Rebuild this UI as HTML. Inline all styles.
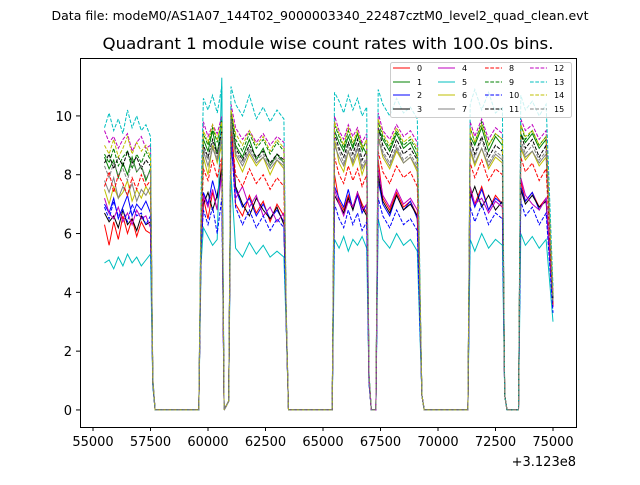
<!DOCTYPE html>
<html><head><meta charset="utf-8"><style>
html,body{margin:0;padding:0;background:#fff;}
svg text{font-family:"DejaVu Sans","Liberation Sans",sans-serif;}
</style></head><body>
<svg id="chart" width="640" height="480" xmlns="http://www.w3.org/2000/svg">
<rect width="640" height="480" fill="#fff"/>
<text x="320" y="20" font-size="12.4" text-anchor="middle" textLength="537" lengthAdjust="spacingAndGlyphs">Data file: modeM0/AS1A07_144T02_9000003340_22487cztM0_level2_quad_clean.evt</text>
<text x="328" y="49" font-size="16" text-anchor="middle" textLength="451" lengthAdjust="spacingAndGlyphs">Quadrant 1 module wise count rates with 100.0s bins.</text>
<g id="plot"></g>
<rect x="80.5" y="58.5" width="496" height="369" fill="none" stroke="#000" stroke-width="1"/>
<g id="ticks"></g>
<text x="576" y="466" font-size="13" text-anchor="end">+3.123e8</text>
<g id="legend"></g>
</svg>
<script>
const times=[55500,55700,55900,56100,56300,56500,56700,56900,57100,57300,57500,57600,57700,
59600,59700,59800,60000,60200,60400,60600,60700,60900,61000,61200,61500,61800,62100,62400,62700,63000,63300,63400,63500,
65400,65500,65700,65900,66100,66300,66500,66700,66900,67000,67100,67300,67400,67600,67900,68200,68500,68800,69100,69300,69400,
71300,71400,71600,71900,72200,72500,72800,72900,73000,73500,73600,73800,74100,74400,74700,75000];
const xTicks=[55000,57500,60000,62500,65000,67500,70000,72500,75000];
const yTicks=[0,2,4,6,8,10];
const seriesNames=["0","1","2","3","4","5","6","7","8","9","10","11","12","13","14","15"];
const s0=[6.3,5.6,6.4,5.8,6.6,6.0,6.5,5.9,6.4,6.1,6.0,0.9,0, 0,5.5,7.2,6.5,7.4,6.8,8.5,0,0.3,9.5,7.0,6.6,7.3,6.7,7.1,6.4,7.0,6.6,3.0,0, 0,8.0,7.1,6.8,7.3,6.9,7.4,7.0,6.7,1.0,0,0,8.5,7.2,6.8,7.4,6.9,7.1,6.6,0.5,0, 0,7.5,7.0,7.6,6.8,7.3,7.0,0.5,0,0,7.8,7.1,7.4,6.9,7.2,3.5];
const s1=[8.6,8.2,8.5,7.9,8.4,8.0,8.6,8.1,8.3,7.8,8.2,1.0,0, 0,6.5,9.2,8.8,9.5,8.7,9.8,0,0.3,10.0,9.0,8.6,9.2,8.5,8.9,8.3,8.7,8.4,3.2,0, 0,9.5,9.1,8.8,9.3,8.9,9.4,9.0,8.7,1.2,0,0,9.6,9.2,8.8,9.4,8.9,9.1,8.6,0.5,0, 0,9.3,9.0,9.6,8.8,9.3,9.0,0.5,0,0,9.4,9.1,9.4,8.9,9.2,3.8];
const s2=[7.0,6.7,7.2,6.5,6.9,7.3,6.6,7.0,6.8,7.1,6.7,0.9,0, 0,5.8,7.4,7.0,7.8,7.2,8.0,0,0.3,9.0,7.5,6.9,7.2,6.6,7.0,6.5,6.8,6.4,3.0,0, 0,7.6,7.2,6.9,7.5,6.8,7.3,6.7,7.0,1.0,0,0,7.8,7.0,6.6,7.3,6.8,7.1,6.5,0.5,0, 0,7.4,6.9,7.5,6.8,7.2,7.0,0.5,0,0,7.6,7.1,7.4,6.8,7.2,3.5];
const s3=[6.7,6.4,6.6,6.2,6.8,6.3,6.5,6.1,6.6,6.3,6.4,0.9,0, 0,5.6,7.0,7.4,6.8,7.3,8.2,0,0.3,9.8,7.6,7.0,6.6,7.2,6.8,6.5,6.9,6.3,3.0,0, 0,7.3,7.0,6.7,7.2,6.8,7.4,6.9,6.6,1.0,0,0,8.0,7.1,6.7,7.3,6.8,7.0,6.6,0.5,0, 0,7.2,7.6,6.9,7.3,6.8,7.1,0.5,0,0,7.5,7.0,7.3,6.9,7.1,3.5];
const s4=[7.2,6.7,6.5,6.9,6.4,6.7,6.3,6.8,6.5,6.6,6.2,0.9,0, 0,5.7,7.3,6.9,7.5,6.8,8.0,0,0.3,9.6,7.2,7.6,6.9,7.3,6.6,6.9,6.4,6.7,3.0,0, 0,7.5,7.0,6.6,7.1,6.9,7.4,6.8,7.0,1.0,0,0,8.2,7.3,6.9,7.5,7.0,7.2,6.8,0.5,0, 0,7.6,7.0,7.2,6.7,7.1,6.9,0.5,0,0,7.9,7.3,7.0,6.8,7.2,3.5];
const s5=[5.0,5.1,4.8,5.2,4.9,5.3,5.0,5.2,4.9,5.1,5.3,0.8,0, 0,5.0,6.2,5.9,5.6,5.8,11.3,0,0.3,8.0,5.5,5.2,5.7,5.3,5.6,5.2,5.4,5.2,2.8,0, 0,5.8,5.5,5.9,5.4,5.8,5.6,5.9,5.5,0.9,0,0,6.5,5.8,5.5,6.0,5.6,5.8,5.4,0.5,0, 0,5.8,5.4,6.0,5.5,5.8,5.6,0.5,0,0,6.0,5.6,5.9,5.5,5.8,3.0];
const s6=[7.5,7.0,7.6,7.2,7.4,7.8,7.1,7.5,7.2,7.6,7.3,1.0,0, 0,6.0,8.6,8.0,9.0,8.4,9.0,0,0.3,9.8,8.6,8.1,8.7,8.3,8.6,8.0,8.5,8.2,3.2,0, 0,9.2,8.4,8.1,8.8,8.3,8.7,8.0,8.5,1.1,0,0,9.3,8.6,8.2,8.8,8.4,8.6,8.1,0.5,0, 0,8.8,8.3,8.9,8.2,8.6,8.4,0.5,0,0,8.9,8.5,8.8,8.3,8.6,3.6];
const s7=[7.8,7.4,7.9,7.2,7.6,7.3,7.7,7.1,7.5,7.3,7.6,1.0,0, 0,6.2,8.8,8.3,8.9,8.5,9.2,0,0.3,9.7,8.7,8.3,8.8,8.4,8.6,8.2,8.5,8.3,3.2,0, 0,9.0,8.6,8.3,8.8,8.4,8.9,8.2,8.5,1.1,0,0,9.2,8.7,8.3,8.9,8.4,8.6,8.2,0.5,0, 0,8.9,8.4,8.9,8.3,8.7,8.5,0.5,0,0,9.0,8.6,8.8,8.4,8.7,3.6];
const s8=[7.6,8.1,7.4,8.0,7.7,7.3,7.9,7.5,8.0,7.6,7.8,1.0,0, 0,6.0,8.2,7.8,8.5,7.9,8.6,0,0.3,9.6,8.0,7.6,8.2,7.7,8.0,7.5,7.9,7.6,3.1,0, 0,8.6,8.0,7.7,8.3,7.8,8.2,7.6,8.0,1.0,0,0,8.8,8.1,7.7,8.3,7.9,8.1,7.6,0.5,0, 0,8.4,7.9,8.5,7.8,8.2,8.0,0.5,0,0,8.6,8.1,8.4,7.8,8.2,3.6];
const s9=[8.7,8.4,8.9,8.3,8.6,8.8,8.2,8.7,8.4,8.8,8.5,1.0,0, 0,6.6,9.4,9.0,9.6,9.1,9.9,0,0.3,10.2,9.2,8.8,9.4,8.9,9.2,8.7,9.1,8.8,3.3,0, 0,9.7,9.3,8.9,9.5,9.0,9.4,8.8,9.2,1.2,0,0,9.8,9.3,8.9,9.5,9.0,9.2,8.8,0.5,0, 0,9.6,9.1,9.8,9.0,9.4,9.2,0.5,0,0,9.7,9.2,9.5,9.0,9.3,3.8];
const s10=[6.9,6.5,7.1,6.6,6.8,6.4,7.0,6.6,6.7,6.3,6.6,0.9,0, 0,5.5,6.8,6.3,6.9,6.0,7.2,0,0.3,9.3,6.9,6.3,6.8,6.2,6.6,6.1,6.5,6.2,2.9,0, 0,7.0,6.5,6.2,6.8,6.3,6.7,6.1,6.4,0.9,0,0,7.2,6.6,6.2,6.8,6.3,6.5,6.1,0.5,0, 0,6.9,6.4,7.0,6.3,6.7,6.5,0.5,0,0,7.1,6.6,6.9,6.3,6.7,3.3];
const s11=[8.4,8.7,8.2,8.6,8.3,8.8,8.4,8.6,8.2,8.5,8.3,1.0,0, 0,6.4,9.0,8.6,9.2,8.7,9.5,0,0.3,10.0,8.9,8.5,9.0,8.6,8.8,8.4,8.7,8.5,3.2,0, 0,9.4,8.9,8.6,9.1,8.7,9.2,8.5,8.8,1.1,0,0,9.6,9.0,8.6,9.2,8.7,8.9,8.5,0.5,0, 0,9.2,8.7,9.3,8.6,9.0,8.8,0.5,0,0,9.4,8.9,9.2,8.6,9.0,3.7];
const s12=[9.5,9.1,9.3,8.9,9.2,9.4,8.8,9.1,9.3,8.9,9.0,1.1,0, 0,7.0,9.8,9.3,9.7,9.4,10.0,0,0.3,10.4,9.6,9.2,9.5,9.1,9.4,9.0,9.3,9.1,3.4,0, 0,10.0,9.5,9.2,9.7,9.3,9.6,9.1,9.4,1.2,0,0,10.1,9.5,9.2,9.7,9.3,9.5,9.1,0.5,0, 0,9.8,9.3,9.9,9.2,9.6,9.4,0.5,0,0,9.9,9.5,9.7,9.2,9.5,4.0];
const s13=[9.6,10.1,9.5,9.9,9.4,10.2,9.6,10.0,9.5,9.7,9.3,1.1,0, 0,7.5,10.6,10.2,10.7,10.1,11.0,0,0.3,11.0,10.4,10.0,10.7,9.9,10.3,9.8,10.2,9.9,3.5,0, 0,10.8,10.5,10.1,10.7,10.2,10.6,10.0,10.3,1.3,0,0,10.9,10.4,10.0,10.6,10.1,10.3,9.9,0.5,0, 0,10.4,10.9,10.2,10.8,10.1,10.3,0.5,0,0,10.7,10.2,10.5,10.0,10.4,4.2];
const s14=[9.0,8.7,9.2,8.6,8.9,9.3,8.7,9.1,8.8,9.0,8.6,1.0,0, 0,6.8,9.5,9.1,9.7,9.2,9.8,0,0.3,10.2,9.4,9.0,9.5,9.0,9.3,8.8,9.2,8.9,3.3,0, 0,9.8,9.4,9.0,9.6,9.1,9.5,8.9,9.2,1.2,0,0,9.9,9.4,9.0,9.6,9.1,9.3,8.9,0.5,0, 0,9.6,9.1,9.7,9.0,9.4,9.2,0.5,0,0,9.7,9.3,9.5,9.0,9.3,3.9];
const s15=[8.3,7.9,8.4,8.0,8.2,7.8,8.5,8.1,8.3,7.9,8.1,1.0,0, 0,6.3,8.9,8.5,9.1,8.6,9.3,0,0.3,9.9,8.8,8.4,8.9,8.5,8.7,8.3,8.6,8.4,3.2,0, 0,9.2,8.8,8.4,9.0,8.5,9.0,8.3,8.6,1.1,0,0,9.4,8.8,8.4,9.0,8.5,8.7,8.3,0.5,0, 0,9.1,8.6,9.2,8.4,8.8,8.6,0.5,0,0,9.2,8.7,9.0,8.5,8.8,3.7];
const allSeries=[s0,s1,s2,s3,s4,s5,s6,s7,s8,s9,s10,s11,s12,s13,s14,s15];
const colors=["#ff0000","#008000","#0000ff","#000000","#bf00bf","#00bfbf","#bfbf00","#808080"];

const NS="http://www.w3.org/2000/svg";
const L=80,R=576,T=58,B=427,X0=54435,X1=76000,Y0=-0.58,Y1=11.97;
function xs(v){return L+(v-X0)/(X1-X0)*(R-L);}
function ys(v){return B-(v-Y0)/(Y1-Y0)*(B-T);}
function mk(tag,attrs,parent){const e=document.createElementNS(NS,tag);for(const k in attrs)e.setAttribute(k,attrs[k]);parent.appendChild(e);return e;}

const plot=document.getElementById('plot');
allSeries.forEach((s,i)=>{
  const d=s.map((v,j)=>(j?'L':'M')+xs(times[j]).toFixed(1)+','+ys(v).toFixed(1)).join(' ');
  const p=mk('path',{d:d,fill:'none',stroke:colors[i%8],'stroke-width':1,'stroke-dasharray':i>=8?'3.7,1.6':'none'},plot);
  
  
});

const tk=document.getElementById('ticks');
xTicks.forEach(v=>{
  const x=xs(v);
  const l=mk('line',{x1:x,x2:x,y1:B,y2:B+4,stroke:'#000'},tk);
  
  
  const t=mk('text',{x:x,y:B+19,'font-size':13,'text-anchor':'middle'},tk);
  t.textContent=v;
  
  
});
yTicks.forEach(v=>{
  const y=ys(v);
  const l=mk('line',{x1:L-4,x2:L,y1:y,y2:y,stroke:'#000'},tk);
  
  
  const t=mk('text',{x:L-8,y:y+5,'font-size':13,'text-anchor':'end'},tk);
  t.textContent=v;
  
  
});

const lg=document.getElementById('legend');
const bx=mk('rect',{x:390.5,y:62.5,width:181,height:55,rx:2,fill:'#fff','fill-opacity':0.8,stroke:'#ccc'},lg);


const colX=[393,438,485,530], rowY=[68,82,95,109];
seriesNames.forEach((n,i)=>{
  const c=Math.floor(i/4), r=i%4;
  const ln=mk('line',{x1:colX[c],x2:colX[c]+17,y1:rowY[r],y2:rowY[r],stroke:colors[i%8],'stroke-width':1,'stroke-dasharray':i>=8?'3.7,1.6':'none'},lg);
  
  
  const t=mk('text',{x:colX[c]+24,y:rowY[r]+3,'font-size':8},lg);
  t.textContent=n;
  
  
});
</script>
</body></html>
